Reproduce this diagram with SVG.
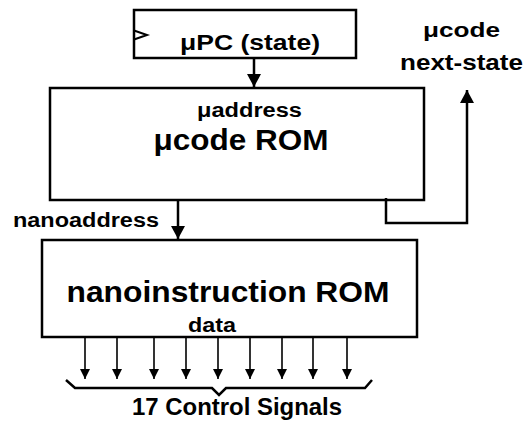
<svg xmlns="http://www.w3.org/2000/svg" width="528" height="422" viewBox="0 0 528 422">
<style>
.box{fill:#fff;stroke:#000;stroke-width:2.5}
.ln{fill:none;stroke:#000;stroke-width:2.5}
.sl{fill:none;stroke:#000;stroke-width:1.6}
.t{font-family:"Liberation Sans",Arial,sans-serif;font-weight:bold;fill:#000;text-anchor:middle}
</style>
<defs>
<marker id="ah" markerWidth="13" markerHeight="14" refX="13" refY="7" orient="auto" markerUnits="userSpaceOnUse" viewBox="0 0 13 14">
<path d="M0,0 L13,7 L0,14 Z" fill="#000"/>
</marker>
<marker id="as" markerWidth="10" markerHeight="10" refX="10" refY="5" orient="auto" markerUnits="userSpaceOnUse" viewBox="0 0 10 10">
<path d="M0,0 L10,5 L0,10 Z" fill="#000"/>
</marker>
</defs>
<g id="upc">
<rect class="box" x="134" y="10" width="222" height="48"/>
<path fill="none" stroke="#000" stroke-width="2" d="M134,30.5 L147,35 L134,39.5"/>
<text class="t" x="250" y="50" font-size="22" textLength="140" lengthAdjust="spacingAndGlyphs">μPC (state)</text>
</g>
<g id="ucode-rom">
<rect class="box" x="50" y="88" width="374" height="112"/>
<text class="t" x="249.5" y="117" font-size="20" textLength="105" lengthAdjust="spacingAndGlyphs">μaddress</text>
<text class="t" x="241" y="150" font-size="29" textLength="175" lengthAdjust="spacingAndGlyphs">μcode ROM</text>
</g>
<g id="next-state-label">
<text class="t" x="461.5" y="37" font-size="21" textLength="77" lengthAdjust="spacingAndGlyphs">μcode</text>
<text class="t" x="461.5" y="70" font-size="22" textLength="123" lengthAdjust="spacingAndGlyphs">next-state</text>
</g>
<g id="nano-rom">
<rect class="box" x="42" y="240" width="375" height="97"/>
<text class="t" x="228" y="302" font-size="30" textLength="323" lengthAdjust="spacingAndGlyphs">nanoinstruction ROM</text>
<text class="t" x="212" y="332" font-size="20" textLength="48" lengthAdjust="spacingAndGlyphs">data</text>
</g>
<g id="labels">
<text class="t" x="86" y="227" font-size="20" textLength="146" lengthAdjust="spacingAndGlyphs">nanoaddress</text>
<text class="t" x="237" y="415" font-size="24" textLength="210" lengthAdjust="spacingAndGlyphs">17 Control Signals</text>
</g>
<g id="connectors">
<line class="ln" x1="254" y1="58" x2="254" y2="87" marker-end="url(#ah)"/>
<line class="ln" x1="178" y1="200" x2="178" y2="239" marker-end="url(#ah)"/>
<path class="ln" d="M386,198 L386,223 L467,223 L467,90" marker-end="url(#ah)"/>
<line class="sl" x1="85" y1="337" x2="85" y2="379" marker-end="url(#as)"/>
<line class="sl" x1="117" y1="337" x2="117" y2="379" marker-end="url(#as)"/>
<line class="sl" x1="154" y1="337" x2="154" y2="379" marker-end="url(#as)"/>
<line class="sl" x1="186" y1="337" x2="186" y2="379" marker-end="url(#as)"/>
<line class="sl" x1="218" y1="337" x2="218" y2="379" marker-end="url(#as)"/>
<line class="sl" x1="250" y1="337" x2="250" y2="379" marker-end="url(#as)"/>
<line class="sl" x1="282" y1="337" x2="282" y2="379" marker-end="url(#as)"/>
<line class="sl" x1="313" y1="337" x2="313" y2="379" marker-end="url(#as)"/>
<line class="sl" x1="347" y1="337" x2="347" y2="379" marker-end="url(#as)"/>
<path class="ln" d="M66,380 L75,388 L212,388 L219,395 L226,388 L365,388 L372,380"/>
</g>
</svg>
